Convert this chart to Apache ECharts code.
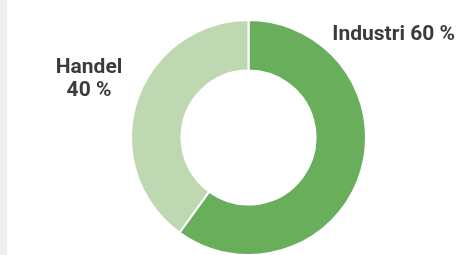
<!DOCTYPE html>
<html>
<head>
<meta charset="utf-8">
<script src="https://cdn.jsdelivr.net/npm/echarts@6/dist/echarts.min.js"></script>
<style>
  html, body { margin: 0; padding: 0; background: #fff; }
  #chart { width: 459px; height: 255px; }
</style>
</head>
<body>
<div id="chart"></div>
<script>
// sector shares in percent
const sectors = ["Industri", "Handel"];
const shares = [60, 40];
const sectorColors = ["#69ae5a", "#bed8b1"];

// where each label sits (x, y, align)
const labelSpots = [
  { x: 455, y: 35, align: "right" },
  { x: 89, y: 79, align: "center" }
];

const myChart = echarts.init(document.getElementById("chart"));

const option = {
  animation: false,
  graphic: [
    {
      type: "rect",
      shape: { x: 0, y: 0, width: 7, height: 255 },
      style: { fill: "#efefef" },
      silent: true
    }
  ],
  series: [
    {
      type: "pie",
      center: [248.5, 137.5],
      radius: [67, 117.5],
      startAngle: 90,
      clockwise: true,
      itemStyle: { borderColor: "#fff", borderWidth: 2 },
      label: {
        show: true,
        position: "outside",
        overflow: "none",
        fontFamily: "Roboto",
        fontWeight: "bold",
        fontSize: 21,
        lineHeight: 23,
        color: "#3b3b3b"
      },
      labelLine: { show: false },
      labelLayout: params => {
        const spot = labelSpots[params.dataIndex];
        return { x: spot.x, y: spot.y, align: spot.align, verticalAlign: "middle" };
      },
      data: sectors.map((name, i) => ({
        name: name,
        value: shares[i],
        itemStyle: { color: sectorColors[i] },
        label: {
          formatter: i === 0 ? "{b} {c} %" : "{b}\n{c} %",
          align: labelSpots[i].align
        }
      }))
    }
  ]
};

myChart.setOption(option);
</script>
</body>
</html>
